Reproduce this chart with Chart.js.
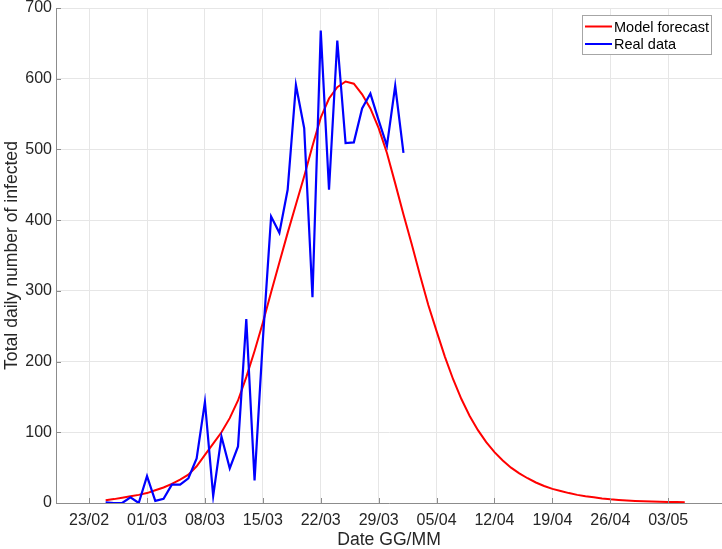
<!DOCTYPE html>
<html>
<head>
<meta charset="utf-8">
<script src="https://cdn.jsdelivr.net/npm/chart.js@4.4.1/dist/chart.umd.min.js"></script>
<style>
  html, body { margin: 0; padding: 0; background: #fff; }
  canvas { display: block; }
</style>
</head>
<body>
<canvas id="chart" width="722" height="549"></canvas>
<script>
// dates are DD/MM in 2020, counted from 23/02
const tickLabels = ["23/02", "01/03", "08/03", "15/03", "22/03", "29/03", "05/04", "12/04", "19/04", "26/04", "03/05"]

const forecastStart = "25/02"
const forecastValues = [
  4, 5.5, 7.5, 9.5, 11.5, 14, 18, 22, 27, 33,
  40, 52, 68, 84, 100, 120, 145, 178, 215, 255,
  298, 340, 382, 422, 462, 505, 545, 572, 588, 596,
  593, 578, 558, 530, 495, 452, 408, 366, 322, 280,
  243, 207, 175, 147, 123, 103, 86, 72, 60, 50,
  42, 35, 29, 24, 20, 17, 14, 11.5, 9.5, 8,
  6.5, 5.3, 4.4, 3.6, 3, 2.5, 2.1, 1.8, 1.5, 1.3,
  1.1
]

const realStart = "25/02"
const realValues = [
  1, 0, 0, 8, 0, 38, 3, 6, 26, 26,
  35, 63, 143, 10, 94, 49, 80, 260, 32, 230,
  405, 382, 443, 591, 530, 291, 668, 443, 654, 509,
  510, 558, 579, 541, 505, 590, 495
]

function dayOf(label) {
  const [d, m] = label.split("/").map(Number)
  return Math.round((Date.UTC(2020, m - 1, d) - Date.UTC(2020, 1, 23)) / 86400000)
}

function toPoints(start, values) {
  const s = dayOf(start)
  return values.map((v, i) => ({ x: s + i, y: v }))
}

const tickDays = tickLabels.map(dayOf)

Chart.defaults.font.family = "'Liberation Sans', Arial, sans-serif"
Chart.defaults.color = "#262626"

const axisColor = "#8c8c8c"
const gridColor = "#e6e6e6"

const innerTicks = {
  id: "innerTicks",
  afterDatasetsDraw(chart) {
    const { ctx, scales: { x, y }, chartArea } = chart
    ctx.save()
    ctx.strokeStyle = axisColor
    ctx.lineWidth = 1
    ctx.beginPath()
    tickDays.forEach(d => {
      const px = Math.round(x.getPixelForValue(d)) + 0.5
      ctx.moveTo(px, chartArea.bottom)
      ctx.lineTo(px, chartArea.bottom - 5)
    })
    y.ticks.forEach(t => {
      const py = Math.round(y.getPixelForValue(t.value)) + 0.5
      ctx.moveTo(chartArea.left, py)
      ctx.lineTo(chartArea.left + 5, py)
    })
    ctx.stroke()
    ctx.restore()
  }
}

const boxLegend = {
  id: "boxLegend",
  afterDraw(chart) {
    const ctx = chart.ctx
    ctx.save()
    ctx.fillStyle = "#ffffff"
    ctx.fillRect(582.5, 15.5, 129, 39)
    ctx.strokeStyle = "#a6a6a6"
    ctx.lineWidth = 1
    ctx.strokeRect(582.5, 15.5, 129, 39)
    ctx.font = "14.5px 'Liberation Sans', Arial, sans-serif"
    ctx.textBaseline = "middle"
    chart.data.datasets.forEach((ds, i) => {
      const ly = 26.5 + i * 17.5
      ctx.strokeStyle = ds.borderColor
      ctx.lineWidth = 2
      ctx.beginPath()
      ctx.moveTo(585, ly)
      ctx.lineTo(612, ly)
      ctx.stroke()
      ctx.fillStyle = "#000000"
      ctx.fillText(ds.label, 614, ly + 1)
    })
    ctx.restore()
  }
}

new Chart(document.getElementById("chart"), {
  type: "line",
  data: {
    datasets: [{
      label: "Model forecast",
      data: toPoints(forecastStart, forecastValues),
      borderColor: "#ff0000",
      borderWidth: 2,
      pointRadius: 0,
      tension: 0,
      order: 1
    }, {
      label: "Real data",
      data: toPoints(realStart, realValues),
      borderColor: "#0000ff",
      borderWidth: 2.2,
      pointRadius: 0,
      tension: 0,
      order: 0
    }]
  },
  options: {
    responsive: false,
    animation: false,
    layout: { padding: { top: 8, right: 0, left: 0, bottom: 0 } },
    plugins: {
      legend: { display: false },
      tooltip: { enabled: false }
    },
    scales: {
      x: {
        type: "linear",
        min: -4,
        max: 76.5,
        afterBuildTicks: (axis) => {
          axis.ticks = tickDays.map(v => ({ value: v }))
        },
        afterFit: (scale) => {
          scale.height = 46
          scale.paddingLeft = 0
          scale.paddingRight = 0
        },
        ticks: {
          autoSkip: false,
          maxRotation: 0,
          padding: 8,
          font: { size: 16 },
          color: "#262626",
          callback: (v) => tickLabels[tickDays.indexOf(v)]
        },
        grid: { color: gridColor, drawTicks: false },
        border: { color: axisColor, width: 1 },
        title: {
          display: true,
          text: "Date GG/MM",
          font: { size: 17.6, lineHeight: 1 },
          color: "#262626",
          padding: 0
        }
      },
      y: {
        min: 0,
        max: 700,
        afterFit: (scale) => {
          scale.width = 56
          scale.paddingTop = 0
          scale.paddingBottom = 0
        },
        ticks: {
          stepSize: 100,
          padding: 4,
          font: { size: 16 },
          color: "#262626"
        },
        grid: { color: gridColor, drawTicks: false },
        border: { color: axisColor, width: 1 },
        title: {
          display: true,
          text: "Total daily number of infected",
          font: { size: 17.6 },
          color: "#262626",
          padding: 2
        }
      }
    }
  },
  plugins: [innerTicks, boxLegend]
})
</script>
</body>
</html>
